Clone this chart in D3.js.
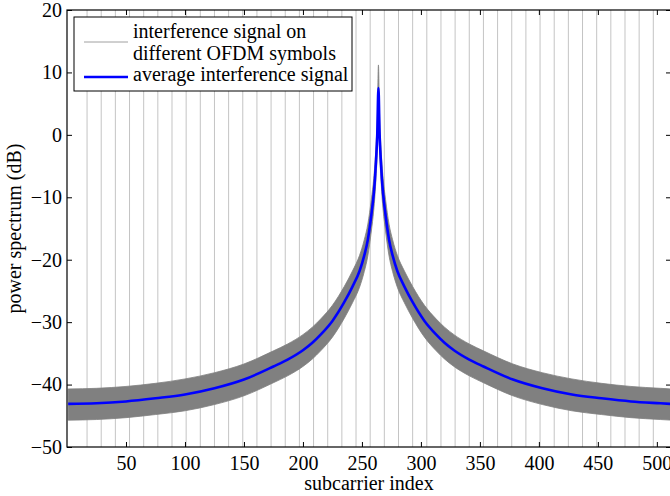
<!DOCTYPE html>
<html>
<head>
<meta charset="utf-8">
<script src="https://cdn.jsdelivr.net/npm/d3@7"></script>
<style>
  body { margin: 0; background: #fff; }
  svg { display: block; }
</style>
</head>
<body>
<div class="chart"></div>
<script>
const subcarrier = [1, 25, 50, 75, 100, 125, 150, 175, 187, 200, 208, 215, 225, 235, 242, 248, 252, 255, 258, 260, 261, 262, 263, 264,
                    265, 266, 267, 268, 270, 273, 276, 280, 286, 293, 303, 313, 320, 328, 341, 353, 378, 403, 428, 453, 478, 503, 512]
// average interference signal (dB)
const avgDb = [-43.1, -43.0, -42.7, -42.2, -41.6, -40.6, -39.2, -37.1, -36.0, -34.5, -33.3, -32.0, -29.8, -26.8, -24.3, -21.8, -19.3, -16.8, -12.8, -9.5, -7.2, -4.0, 0.0, 7.5,
               0.0, -4.0, -7.2, -9.5, -12.8, -16.8, -19.3, -21.8, -24.3, -26.8, -29.8, -32.0, -33.3, -34.5, -36.0, -37.1, -39.2, -40.6, -41.6, -42.2, -42.7, -43.0, -43.1]
// upper / lower envelope of the per-symbol interference curves (dB)
const bandHigh = [-40.7, -40.6, -40.3, -39.8, -39.1, -38.1, -36.7, -34.6, -33.5, -32.0, -30.8, -29.5, -27.3, -24.3, -21.8, -19.3, -16.8, -14.3, -10.3, -7.0, -4.7, -1.5, 2.5, 11.2,
                  2.5, -1.5, -4.7, -7.0, -10.3, -14.3, -16.8, -19.3, -21.8, -24.3, -27.3, -29.5, -30.8, -32.0, -33.5, -34.6, -36.7, -38.1, -39.1, -39.8, -40.3, -40.6, -40.7]
const bandLow = [-45.7, -45.6, -45.3, -44.8, -44.2, -43.2, -41.8, -39.7, -38.6, -37.1, -35.9, -34.6, -32.4, -29.4, -26.9, -24.4, -21.9, -19.4, -15.4, -12.1, -9.8, -6.6, -2.6, 6.5,
                 -2.6, -6.6, -9.8, -12.1, -15.4, -19.4, -21.9, -24.4, -26.9, -29.4, -32.4, -34.6, -35.9, -37.1, -38.6, -39.7, -41.8, -43.2, -44.2, -44.8, -45.3, -45.6, -45.7]
// light vertical reference lines
const markerCarriers = [17, 29, 41, 53, 65, 77, 89, 101, 113, 125, 137, 149, 161, 173, 185, 197, 209, 221, 233, 245, 257, 269,
                        281, 293, 305, 317, 329, 341, 353, 365, 377, 389, 401, 413, 425, 437, 449, 461, 473, 485, 497]
const xTicks = [50, 100, 150, 200, 250, 300, 350, 400, 450, 500]
const yTicks = [-50, -40, -30, -20, -10, 0, 10, 20]
const legendLabels = [["interference signal on", "different OFDM symbols"], ["average interference signal"]]

const FONT = "'Liberation Serif', 'Times New Roman', Times, serif"
const W = 670, H = 496
const margin = {top: 10, right: -1, bottom: 49, left: 67}
const width = W - margin.left - margin.right,
      height = H - margin.top - margin.bottom

const svg = d3.select(".chart")
  .append("svg")
    .attr("width", W)
    .attr("height", H)
    .attr("font-family", FONT)

const g = svg.append("g")
    .attr("transform", `translate(${margin.left},${margin.top})`)

const x = d3.scaleLinear().domain([0, 512]).range([0, width])
const y = d3.scaleLinear().domain([-50, 20]).range([height, 0])

const rows = subcarrier.map((s, i) => ({s: s, avg: avgDb[i], hi: bandHigh[i], lo: bandLow[i]}))

// vertical lines
g.selectAll(".vline")
  .data(markerCarriers)
  .join("line")
    .attr("class", "vline")
    .attr("x1", d => x(d)).attr("x2", d => x(d))
    .attr("y1", 0).attr("y2", height)
    .attr("stroke", "#c4c4c4")
    .attr("stroke-width", 1)

// gray band of per-symbol curves
g.append("path")
  .datum(rows)
    .attr("fill", "#808080")
    .attr("stroke", "#808080")
    .attr("stroke-width", 0.8)
    .attr("d", d3.area()
      .x(d => x(d.s))
      .y0(d => y(d.lo))
      .y1(d => y(d.hi))
      .curve(d3.curveMonotoneX))

// average curve
g.append("path")
  .datum(rows)
    .attr("fill", "none")
    .attr("stroke", "#0000ff")
    .attr("stroke-width", 2.6)
    .attr("d", d3.line()
      .x(d => x(d.s))
      .y(d => y(d.avg))
      .curve(d3.curveMonotoneX))

// axes, ticks pointing inward
const axisStyle = sel => {
  sel.attr("font-family", FONT).attr("font-size", 20)
  sel.selectAll("text").attr("fill", "#000")
  sel.selectAll("line").attr("stroke", "#000")
  sel.select(".domain").remove()
}
g.append("g")
  .attr("transform", `translate(0,${height})`)
  .call(d3.axisBottom(x).tickValues(xTicks).tickSize(-5).tickPadding(9))
  .call(axisStyle)
g.append("g")
  .call(d3.axisTop(x).tickValues(xTicks).tickSize(-5).tickFormat(""))
  .call(axisStyle)
g.append("g")
  .call(d3.axisLeft(y).tickValues(yTicks).tickSize(-5).tickPadding(5))
  .call(axisStyle)
g.append("g")
  .attr("transform", `translate(${width},0)`)
  .call(d3.axisRight(y).tickValues(yTicks).tickSize(-5).tickFormat(""))
  .call(axisStyle)

g.append("rect")
    .attr("width", width).attr("height", height)
    .attr("fill", "none")
    .attr("stroke", "#000")
    .attr("stroke-width", 1.2)

// axis titles
svg.append("text")
    .attr("x", margin.left + width / 2)
    .attr("y", 490)
    .attr("text-anchor", "middle")
    .attr("font-size", 20)
    .text("subcarrier index")
svg.append("text")
    .attr("transform", `translate(21,${margin.top + height / 2}) rotate(-90)`)
    .attr("text-anchor", "middle")
    .attr("font-size", 20)
    .text("power spectrum (dB)")

// legend
const legend = svg.append("g").attr("transform", "translate(74,17)")
legend.append("rect")
    .attr("width", 278).attr("height", 74)
    .attr("fill", "#fff")
    .attr("stroke", "#000")
    .attr("stroke-width", 1)
legend.append("line")
    .attr("x1", 10).attr("x2", 54).attr("y1", 25).attr("y2", 25)
    .attr("stroke", "#a0a0a0").attr("stroke-width", 1)
legend.append("line")
    .attr("x1", 10).attr("x2", 54).attr("y1", 60).attr("y2", 60)
    .attr("stroke", "#0000ff").attr("stroke-width", 2.6)
const lines = [legendLabels[0][0], legendLabels[0][1], legendLabels[1][0]]
legend.selectAll(".ltext")
  .data(lines)
  .join("text")
    .attr("class", "ltext")
    .attr("x", 59)
    .attr("y", (d, i) => 21 + i * 21.5)
    .attr("font-size", 20)
    .text(d => d)
</script>
</body>
</html>
